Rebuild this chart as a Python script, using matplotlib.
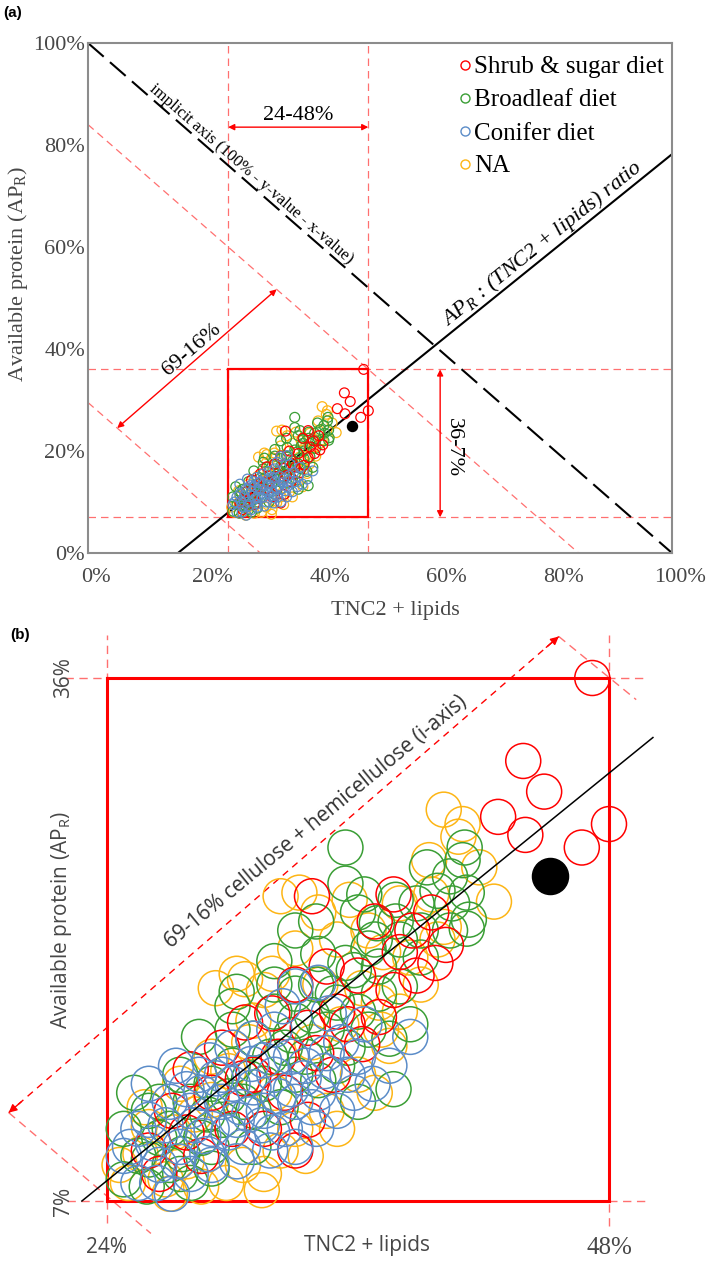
import matplotlib
matplotlib.use('Agg')
import matplotlib.pyplot as plt
import matplotlib.transforms as mtransforms
from matplotlib.lines import Line2D
from matplotlib.patches import Rectangle

# ---------------- data (percent) ----------------
categories = ['Shrub & sugar diet', 'Broadleaf diet', 'Conifer diet', 'NA']
cat_colors = ['#FF0000', '#3A9E35', '#5B8CC8', '#FDB515']

shrub_x = [47.2, 43.9, 44.9, 42.7, 44.0, 48.0, 46.7, 33.8, 37.7, 39.5, 38.6, 40.2, 39.7, 37.7,
           38.8, 30.6, 31.9, 33.6, 36.2, 35.0, 33.6, 28.0, 27.1, 29.5, 31.0, 32.5, 34.8, 30.0,
           36.0, 34.5, 28.5, 26.5, 33.0, 29.0, 30.5, 32.2, 34.0, 35.5, 37.0, 38.0, 36.8, 31.5,
           27.8, 33.0, 26.0]
shrub_y = [36.0, 31.4, 29.7, 28.3, 27.3, 27.9, 26.6, 23.9, 24.0, 23.0, 22.0, 21.2, 20.2, 18.7,
           19.5, 16.9, 17.4, 16.6, 15.7, 17.5, 11.5, 14.3, 12.0, 15.5, 14.0, 13.0, 14.0, 11.0,
           19.5, 20.0, 9.5, 8.5, 19.0, 13.0, 13.8, 15.0, 15.2, 16.8, 17.2, 20.8, 22.5, 11.0,
           10.8, 9.8, 9.8]

broad_x = [35.4, 35.4, 41.1, 41.0, 39.3, 36.0, 41.2, 41.3, 37.8, 36.9, 40.4, 25.3, 25.9, 37.7,
           32.0, 30.2, 28.4, 34.1, 35.4, 38.0, 40.4, 41.2, 33.0, 34.1, 32.3, 27.6, 26.0, 27.0,
           28.0, 29.0, 30.0, 31.0, 32.0, 33.0, 34.0, 35.0, 36.0, 37.0, 38.0, 39.0, 29.5, 30.5,
           31.5, 33.5, 35.5, 36.5, 24.8, 26.5, 28.5, 29.0, 27.5, 30.0, 32.5, 34.5, 31.0, 33.0,
           36.5, 37.5, 26.0, 28.0, 26.5, 27.0, 28.8, 29.8, 30.8, 31.8, 32.8, 33.8, 34.8, 35.8,
           36.8, 37.8, 38.8, 39.8, 40.5, 39.0, 37.0, 35.0, 33.0, 31.0, 29.0, 27.5, 25.5, 24.8,
           30.0, 32.0, 34.0, 36.3, 38.5, 36.0]
broad_y = [26.6, 24.6, 26.6, 25.9, 25.5, 23.0, 24.1, 22.6, 23.7, 22.4, 25.0, 13.0, 7.8, 13.2,
           20.3, 18.6, 16.1, 20.7, 20.2, 18.9, 22.0, 22.1, 17.0, 13.7, 12.2, 9.6, 9.3, 11.0,
           12.5, 13.5, 14.5, 16.0, 17.5, 18.5, 19.0, 18.0, 17.5, 20.0, 21.5, 22.0, 11.5, 12.5,
           13.5, 15.0, 15.5, 16.5, 8.2, 10.5, 10.5, 8.8, 14.0, 16.5, 15.5, 16.5, 10.0, 22.0,
           21.0, 16.0, 12.0, 8.0, 12.5, 9.0, 11.8, 12.8, 13.8, 15.0, 16.2, 17.3, 18.5, 19.8,
           21.5, 22.5, 23.5, 24.2, 23.5, 20.5, 18.5, 14.5, 14.0, 12.0, 10.0, 8.5, 9.5, 11.0,
           17.8, 19.0, 22.5, 24.0, 16.8, 12.5]

conif_x = [38.5, 36.7, 25.1, 27.1, 27.3, 28.9, 33.0, 34.1, 34.5, 31.0, 30.2, 31.9, 34.1, 28.6,
           26.0, 26.5, 27.5, 28.0, 28.5, 29.0, 29.5, 30.0, 30.5, 31.5, 32.0, 32.5, 33.0, 33.5,
           35.0, 35.5, 36.0, 29.0, 27.0, 25.5, 24.8, 30.0, 31.0, 32.0, 28.0, 33.0, 34.0, 26.0,
           37.5, 29.5, 31.5, 30.8, 28.2, 32.8, 25.5, 26.2, 26.8, 27.8, 28.4, 29.2, 29.8, 30.4,
           30.9, 31.4, 32.2, 32.8, 33.4, 33.8, 34.4, 35.2, 36.3, 35.8, 27.4, 28.8, 26.4, 30.2,
           31.8, 34.6, 32.4]
conif_y = [16.1, 13.5, 10.0, 7.4, 14.5, 14.8, 18.9, 19.1, 15.2, 13.3, 11.5, 10.8, 13.0, 10.6,
           11.5, 9.0, 10.0, 12.0, 13.0, 11.0, 12.5, 13.5, 10.0, 12.0, 14.0, 11.0, 12.5, 14.5,
           12.0, 14.0, 15.0, 9.0, 12.5, 8.0, 9.5, 15.5, 16.0, 16.5, 8.5, 10.0, 11.0, 13.5,
           14.5, 14.0, 14.8, 11.8, 11.2, 13.2, 11.0, 10.2, 11.2, 13.2, 14.0, 13.8, 10.8, 12.2,
           14.6, 11.2, 12.8, 15.0, 13.8, 12.2, 14.2, 15.8, 16.8, 13.0, 9.2, 9.6, 8.0, 9.2,
           9.8, 17.4, 17.8]

na_x = [40.1, 41.0, 40.8, 39.4, 32.3, 33.2, 34.1, 35.6, 42.5, 29.2, 30.6, 31.5, 40.1, 29.7,
        31.5, 26.0, 25.6, 32.3, 37.5, 37.1, 31.9, 30.2, 25.0, 26.8, 27.8, 28.5, 30.5, 33.5,
        34.5, 36.0, 38.0, 39.0, 36.5, 38.0, 39.5, 27.5, 29.0, 31.0, 33.0, 35.0, 38.5, 37.0,
        24.6, 25.8, 27.2, 28.2, 29.8, 30.8, 32.0, 33.8, 35.2, 36.2, 37.2, 34.2, 29.0, 31.4,
        27.0, 33.0, 35.0, 36.8, 39.8, 41.8]
na_y = [28.7, 27.9, 27.2, 25.9, 23.9, 24.1, 23.0, 23.7, 23.6, 18.8, 19.3, 18.7, 22.2, 8.0,
        8.5, 11.1, 9.6, 9.8, 15.6, 16.5, 19.6, 19.6, 8.0, 8.2, 9.2, 7.8, 9.0, 9.5,
        12.0, 14.0, 17.5, 19.0, 22.0, 23.5, 24.0, 13.5, 15.0, 17.0, 21.0, 21.5, 20.5, 18.0,
        9.0, 12.2, 10.8, 11.8, 14.2, 15.8, 13.0, 15.8, 16.8, 18.8, 20.8, 19.0, 12.6, 7.6,
        7.4, 11.0, 11.0, 13.0, 21.5, 25.5]

ref_point = (45.2, 25.0)          # black reference sample

# panel (a) guide lines
implicit_x, implicit_y = [0, 100], [100, 0]
ratio_x, ratio_y = [15.4, 100], [0, 78.2]
box_x0, box_x1, box_y0, box_y1 = 24, 48, 7, 36
diag_sums = [84, 29.5]
xticks_a = [0, 20, 40, 60, 80, 100]
tick_labels_a = ['0%', '20%', '40%', '60%', '80%', '100%']

# panel (b) guide lines
ratio_bx, ratio_by = [22.8, 50.1], [7.0, 32.7]
iaxis_start, iaxis_end = (19.3, 11.9), (45.6, 38.3)

# ---------------- styling ----------------
W, H = 709, 1261
SERIF = 'Liberation Serif'
SANS = 'Open Sans'
GRAY = '#474747'
RED = '#FF0000'
LRED = '#FF7070'

fig = plt.figure(figsize=(W / 100, H / 100), dpi=100)


def rect(l, t, r, b):
    return [l / W, 1 - b / H, (r - l) / W, (b - t) / H]


series = [(na_x, na_y, 3), (broad_x, broad_y, 1), (shrub_x, shrub_y, 0), (conif_x, conif_y, 2)]

# ================= panel (a) =================
axa = fig.add_axes(rect(88, 43, 672, 553))
axa.set_xlim(0, 100)
axa.set_ylim(0, 100)
for s in axa.spines.values():
    s.set_color('#8c8c8c')
    s.set_linewidth(1.5)
axa.set_xticks(xticks_a)
axa.set_xticklabels(tick_labels_a, fontfamily=SERIF, fontsize=16, color=GRAY)
axa.set_yticks(xticks_a)
axa.set_yticklabels(tick_labels_a, fontfamily=SERIF, fontsize=16, color=GRAY)
axa.tick_params(length=0)
axa.tick_params(axis='x', pad=11)
axa.tick_params(axis='y', pad=2)
off = mtransforms.ScaledTranslation(8 / 100, 0, fig.dpi_scale_trans)
for lbl in axa.get_xticklabels():
    lbl.set_transform(lbl.get_transform() + off)

# thin red dashed guides
rd = dict(color=LRED, lw=0.9, dashes=(6, 4), zorder=1)
for xv in (box_x0, box_x1):
    axa.plot([xv, xv], [0, 100], **rd)
for yv in (box_y0, box_y1):
    axa.plot([0, 100], [yv, yv], **rd)
for sm in diag_sums:
    axa.plot([0, sm], [sm, 0], **rd)

axa.plot(implicit_x, implicit_y, color='black', lw=1.5, dashes=(10, 4), zorder=2)
axa.plot(ratio_x, ratio_y, color='black', lw=1.5, zorder=2)
axa.add_patch(Rectangle((box_x0, box_y0), box_x1 - box_x0, box_y1 - box_y0,
                        fill=False, ec=RED, lw=1.6, zorder=3))

for xs, ys, ci in series:
    axa.scatter(xs, ys, s=50, facecolors='none', edgecolors=cat_colors[ci], linewidths=0.9, zorder=4)
axa.scatter([ref_point[0]], [ref_point[1]], s=52, color='black', zorder=5)

arr = dict(arrowstyle='<|-|>', color=RED, lw=1.0, mutation_scale=9, shrinkA=0, shrinkB=0)
axa.annotate('', xy=(box_x0, 83.5), xytext=(box_x1, 83.5), arrowprops=arr)
axa.annotate('', xy=(60.3, box_y1), xytext=(60.3, box_y0), arrowprops=arr)
axa.annotate('', xy=(5.0, 24.5), xytext=(32.3, 51.7), arrowprops=arr)

axa.text(36, 85.8, '24-48%', fontfamily=SERIF, fontsize=16, ha='center', va='center')
axa.text(62.6, 20.6, '36-7%', fontfamily=SERIF, fontsize=16, ha='center', va='center', rotation=-90)
axa.text(17.8, 39.8, '69-16%', fontfamily=SERIF, fontsize=16, ha='center', va='center', rotation=40.5)
axa.text(27.0, 73.1, 'implicit axis (100% - y-value - x-value)', fontfamily=SERIF, fontsize=12,
         ha='center', va='bottom', rotation=-41.1, rotation_mode='anchor')
axa.text(79.0, 58.8, 'AP$_\\mathregular{R}$ : (TNC2 + lipids) ratio', fontfamily=SERIF,
         fontstyle='italic', fontsize=16, ha='center', va='bottom', rotation=38.9,
         rotation_mode='anchor')

handles = [Line2D([], [], ls='none', marker='o', ms=6.5, mfc='none', mec=c, mew=1.0) for c in cat_colors]
axa.legend(handles, categories, loc='upper left', bbox_to_anchor=((460 - 88) / 584, (553 - 56) / 510),
           frameon=False, prop=dict(family=SERIF, size=18), handlelength=0.4, handletextpad=0.15,
           labelspacing=0.42, borderpad=0, borderaxespad=0)

fig.text(18 / W, 1 - 274 / H, 'Available protein (AP$_\\mathregular{R}$)', fontfamily=SERIF,
         fontsize=16, color=GRAY, rotation=90, ha='center', va='center')
fig.text(395 / W, 1 - 610 / H, 'TNC2 + lipids', fontfamily=SERIF, fontsize=16, color=GRAY,
         ha='center', va='center')
fig.text(3 / W, 1 - 13 / H, '(a)', fontfamily='Liberation Sans', fontweight='bold', fontsize=11,
         ha='left', va='center')

# ================= panel (b) =================
axb = fig.add_axes(rect(107, 678, 609, 1201))
axb.set_xlim(box_x0, box_x1)
axb.set_ylim(box_y0, box_y1)
axb.patch.set_alpha(0)
for s in axb.spines.values():
    s.set_color(RED)
    s.set_linewidth(2.2)
    s.set_zorder(3)
axb.set_xticks([box_x0, box_x1])
axb.set_xticklabels(['24%', '48%'], fontsize=15, color=GRAY)
xl = axb.get_xticklabels()
xl[0].set_fontfamily(SANS)
xl[1].set_fontfamily(SERIF)
xl[1].set_fontsize(18)
axb.set_yticks([box_y0, box_y1])
axb.set_yticklabels(['7%', '36%'], fontfamily=SANS, fontsize=15, color=GRAY, rotation=90, va='center')
axb.tick_params(length=0)
axb.tick_params(axis='x', pad=26)
axb.tick_params(axis='y', pad=24)

rdb = dict(color=LRED, lw=1.0, dashes=(6, 4), zorder=1, clip_on=False)
axb.plot([22.0, 49.7], [box_y1, box_y1], **rdb)
axb.plot([22.1, 49.8], [box_y0, box_y0], **rdb)
axb.plot([box_x0, box_x0], [5.8, 38.4], **rdb)
axb.plot([box_x1, box_x1], [5.6, 38.4], **rdb)
axb.plot([iaxis_start[0], 26.1], [iaxis_start[1], 5.2], **rdb)
axb.plot([iaxis_end[0], 49.3], [iaxis_end[1], 34.8], **rdb)
axb.plot([iaxis_start[0], iaxis_end[0]], [iaxis_start[1], iaxis_end[1]], color=RED, lw=1.0,
         dashes=(5, 4), zorder=1, clip_on=False)
hd = dict(arrowstyle='-|>', color=RED, lw=1.0, mutation_scale=12, shrinkA=0, shrinkB=0)
axb.annotate('', xy=iaxis_end, xytext=(iaxis_end[0] - 0.6, iaxis_end[1] - 0.6), arrowprops=hd,
             annotation_clip=False)
axb.annotate('', xy=iaxis_start, xytext=(iaxis_start[0] + 0.6, iaxis_start[1] + 0.6), arrowprops=hd,
             annotation_clip=False)

for xs, ys, ci in series:
    axb.scatter(xs, ys, s=635, facecolors='none', edgecolors=cat_colors[ci], linewidths=1.1,
                zorder=4, clip_on=False)
axb.scatter([ref_point[0]], [ref_point[1]], s=676, color='black', zorder=5, clip_on=False)
axb.plot(ratio_bx, ratio_by, color='black', lw=1.1, zorder=6, clip_on=False)

axb.text(34.0, 28.0, '69-16% cellulose + hemicellulose (i-axis)', fontfamily=SANS, fontsize=15,
         color='#333333', ha='center', va='center', rotation=39.5, rotation_mode='anchor')

fig.text(61 / W, 1 - 920 / H, 'Available protein (AP$_\\mathregular{R}$)', fontfamily=SANS,
         fontsize=15, color=GRAY, rotation=90, ha='center', va='center')
fig.text(367 / W, 1 - 1245 / H, 'TNC2 + lipids', fontfamily=SANS, fontsize=15, color=GRAY,
         ha='center', va='center')
fig.text(10 / W, 1 - 635 / H, '(b)', fontfamily='Liberation Sans', fontweight='bold', fontsize=11,
         ha='left', va='center')

fig.savefig('out.png', dpi=100)
